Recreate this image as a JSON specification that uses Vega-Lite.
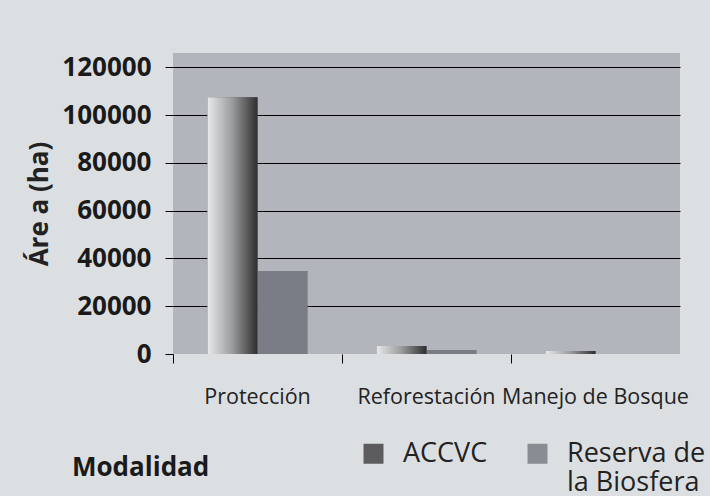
{
  "$schema": "https://vega.github.io/schema/vega-lite/v6.json",
  "autosize": {"type": "none"},
  "padding": {"left": 173, "top": 53, "right": 30, "bottom": 142},
  "width": 507,
  "height": 301,
  "background": "#dcdfe2",
  "config": {
    "view": {"fill": "#b2b5bc", "stroke": null},
    "font": "Open Sans"
  },
  "data": {
    "values": [
      {"modalidad": "ACCVC", "categoria": "Protección", "area": 107500},
      {"modalidad": "Reserva de la Biosfera", "categoria": "Protección", "area": 34700},
      {"modalidad": "ACCVC", "categoria": "Reforestación", "area": 3400},
      {"modalidad": "Reserva de la Biosfera", "categoria": "Reforestación", "area": 1700},
      {"modalidad": "ACCVC", "categoria": "Manejo de Bosque", "area": 1300},
      {"modalidad": "Reserva de la Biosfera", "categoria": "Manejo de Bosque", "area": 0}
    ]
  },
  "encoding": {
    "x": {
      "field": "categoria", "type": "nominal", "sort": null,
      "scale": {"paddingInner": 0, "paddingOuter": 0},
      "axis": {
        "title": null, "labelAngle": 0, "domain": false, "grid": false,
        "bandPosition": 0, "labelLimit": 300,
        "tickColor": "#000", "tickSize": 9, "tickWidth": 1,
        "labelFont": "Open Sans", "labelFontSize": 21.5, "labelColor": "#222",
        "labelPadding": 23
      }
    },
    "xOffset": {
      "field": "modalidad", "type": "nominal",
      "scale": {"domain": ["ACCVC", "Reserva de la Biosfera"], "paddingInner": 0, "paddingOuter": 0.69}
    },
    "y": {
      "field": "area", "type": "quantitative",
      "scale": {"domain": [0, 126000], "nice": false},
      "axis": {
        "title": "Áre a (ha)", "titleFont": "Open Sans", "titleFontSize": 26, "titleFontWeight": "bold",
        "titleColor": "#222", "titlePadding": 9,
        "values": [0, 20000, 40000, 60000, 80000, 100000, 120000],
        "format": "d", "domain": false,
        "labelFont": "Open Sans", "labelFontSize": 26, "labelFontWeight": "bold", "labelColor": "#1a1a1a",
        "labelPadding": 14, "tickColor": "#000", "tickSize": 8, "tickWidth": 1,
        "grid": true, "gridColor": "#000", "gridWidth": 1,
        "gridOpacity": {"condition": {"test": "datum.value == 0", "value": 0}, "value": 1}
      }
    }
  },
  "layer": [
    {
      "mark": {"type": "bar"},
      "encoding": {
        "color": {
          "field": "modalidad", "type": "nominal",
          "scale": {"domain": ["ACCVC", "Reserva de la Biosfera"], "range": ["#5c5c5e", "#8a8c93"]},
          "legend": {
            "orient": "none", "legendX": -101, "legendY": 387,
            "direction": "horizontal", "title": "Modalidad", "titleOrient": "left",
            "titleFont": "Open Sans", "titleFontSize": 26, "titleFontWeight": "bold", "titleColor": "#1a1a1a",
            "titlePadding": 150,
            "labelFont": "Open Sans", "labelFontSize": 27, "labelColor": "#222", "labelLimit": 300,
            "labelOffset": 16, "columnPadding": 36, "labelBaseline": "middle",
            "labelExpr": "datum.label == 'Reserva de la Biosfera' ? ['Reserva de', 'la Biosfera'] : [datum.label, '']",
            "symbolType": "square", "symbolSize": 400, "symbolStrokeWidth": 0,
            "encode": {
              "labels": {"dy": {"value": 14}},
              "title": {"dy": {"value": -7}}
            }
          }
        }
      }
    },
    {
      "transform": [{"filter": "datum.modalidad == 'Reserva de la Biosfera'"}],
      "mark": {"type": "bar", "color": "#7a7d86"},
      "encoding": {}
    },
    {
      "transform": [{"filter": "datum.modalidad == 'ACCVC'"}],
      "mark": {
        "type": "bar",
        "color": {"gradient": "linear", "x1": 0, "y1": 0, "x2": 1, "y2": 0,
          "stops": [{"offset": 0, "color": "#e8e9eb"}, {"offset": 0.5, "color": "#9a9b9d"}, {"offset": 1, "color": "#2e2e2e"}]}
      },
      "encoding": {}
    }
  ]
}
